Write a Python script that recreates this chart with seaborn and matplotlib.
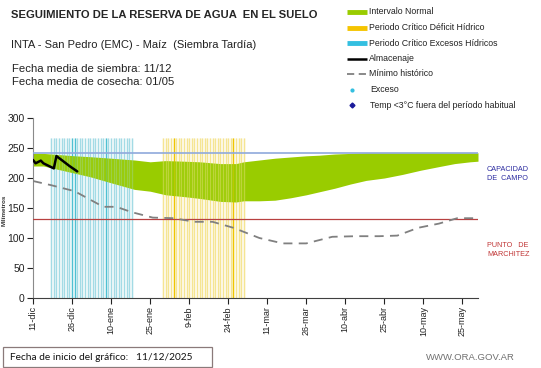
import numpy as np
import pandas as pd
import matplotlib
matplotlib.use("Agg")
import matplotlib.pyplot as plt
import seaborn as sns
from matplotlib.lines import Line2D
from matplotlib.patches import Rectangle

# === Data (days since 11-dic) ===
band_days = [0, 4, 10, 16, 22, 30, 39, 45, 51, 58, 64, 72, 78, 81, 87, 93, 99, 105,
             110, 116, 122, 128, 135, 142, 149, 156, 162, 168, 171]
band_upper = [241, 241, 239, 237, 235.5, 233, 230, 227, 229, 228, 227, 224, 224, 227, 230,
              233, 235, 237, 238, 240, 241, 242, 242, 242, 242, 242, 242, 242, 242]
band_lower = [220, 220, 214, 208, 202, 192, 181, 178, 172, 169, 166, 161, 160, 162, 162,
              163, 167, 172, 177, 183, 190, 196, 200, 206, 213, 219, 224, 227, 228]

min_days = [0, 7, 16, 27, 32, 38, 46, 54, 62, 69, 77, 87, 96, 105, 115, 124, 133, 140,
            148, 156, 163, 171]
min_hist = [195, 188, 178, 152, 152, 143, 134, 133, 127, 127, 117, 100, 91, 91, 102, 103,
            103, 104, 117, 124, 133, 133]

alm_days = [0, 1, 3, 4, 8, 9, 11, 14, 17]
almacenaje = [230, 224.5, 229, 224.5, 216, 236.5, 230, 220, 211]

exceso_days = list(range(7, 39))
exceso_dark = [15, 16, 28]
deficit_days = list(range(50, 82))
deficit_dark = [54, 77]
stripe_top = 266

capacidad_campo = 242
punto_marchitez = 131

tick_days = [0, 15, 30, 45, 60, 75, 90, 105, 120, 135, 150, 165]
tick_labels = ["11-dic", "26-dic", "10-ene", "25-ene", "9-feb", "24-feb", "11-mar",
               "26-mar", "10-abr", "25-abr", "10-may", "25-may"]

legend_labels = ["Intervalo Normal", "Periodo Crítico Déficit Hídrico",
                 "Periodo Crítico Excesos Hídricos", "Almacenaje", "Mínimo histórico",
                 "Exceso", "Temp <3°C fuera del período habitual"]

# === Style ===
sns.set_style("white")
plt.rcParams["font.family"] = ["Liberation Sans", "DejaVu Sans"]

GREEN = "#99cc00"
CYAN_L, CYAN_D = "#a3dbe5", "#4fc0d2"
YEL_L, YEL_D = "#f5e592", "#efc500"

fig = plt.figure(figsize=(5.41, 3.68), dpi=100)
ax = fig.add_axes([33 / 541, 1 - 298 / 368, (478 - 33) / 541, (298 - 118) / 368])

exc_cols = [CYAN_D if d in exceso_dark else CYAN_L for d in exceso_days]
def_cols = [YEL_D if d in deficit_dark else YEL_L for d in deficit_days]

# stripes below, green band, then faint stripes again over the band
ax.vlines(exceso_days, 0, stripe_top, lw=1.0, zorder=1, colors=exc_cols)
ax.vlines(deficit_days, 0, stripe_top, lw=1.0, zorder=1, colors=def_cols)

band = pd.DataFrame({"day": band_days, "upper": band_upper, "lower": band_lower})
ax.fill_between(band["day"], band["lower"], band["upper"], color=GREEN, lw=0, zorder=2)

ax.vlines(exceso_days, 0, stripe_top, lw=1.0, zorder=2.5, colors=exc_cols, alpha=0.3)
ax.vlines(deficit_days, 0, stripe_top, lw=1.0, zorder=2.5, colors=def_cols, alpha=0.4)

ax.axhline(capacidad_campo, color="#8fa9dc", lw=1.2, zorder=3)
ax.axhline(punto_marchitez, color="#b84040", lw=0.9, zorder=3)

mh = pd.DataFrame({"day": min_days, "mm": min_hist})
sns.lineplot(data=mh, x="day", y="mm", ax=ax, color="#808080", lw=1.3,
             dashes=False, zorder=4).lines[-1].set_dashes((5, 3.5))

al = pd.DataFrame({"day": alm_days, "mm": almacenaje})
sns.lineplot(data=al, x="day", y="mm", ax=ax, color="black", lw=1.8, zorder=5)

ax.set_xlim(0, 171)
ax.set_ylim(0, 300)
ax.set_yticks([0, 50, 100, 150, 200, 250, 300])
ax.set_xticks(tick_days)
ax.set_xticklabels(tick_labels, rotation=90, fontsize=6.5)
ax.tick_params(axis="y", labelsize=7.5, length=4, width=0.8, colors="#222222", pad=2)
ax.tick_params(axis="x", length=4, width=0.8, colors="#222222", pad=2)
ax.tick_params(axis="both", which="both", direction="out", left=True, bottom=True)
for s in ["top", "right"]:
    ax.spines[s].set_visible(False)
ax.spines["left"].set_color("#8a8a8a")
ax.spines["bottom"].set_color("#404040")
ax.set_xlabel("")
ax.set_ylabel("")
fig.text(4.5 / 541, 1 - 210 / 368, "Milímetros", rotation=90, fontsize=4.5,
         fontweight="bold", ha="center", va="center", color="#333333")

# === Header texts ===
fig.text(11 / 541, 1 - 15 / 368, "SEGUIMIENTO DE LA RESERVA DE AGUA  EN EL SUELO",
         fontsize=8.1, fontweight="bold", va="center")
fig.text(11 / 541, 1 - 45 / 368, "INTA - San Pedro (EMC) - Maíz  (Siembra Tardía)",
         fontsize=8.0, va="center", color="#222222")
fig.text(12 / 541, 1 - 69 / 368, "Fecha media de siembra: 11/12", fontsize=8.2,
         va="center", color="#222222")
fig.text(12 / 541, 1 - 82 / 368, "Fecha media de cosecha: 01/05", fontsize=8.2,
         va="center", color="#222222")

# === Legend (manual) ===
rows_y = [12, 27.5, 43, 58.5, 74, 89.5, 105]
handles = [
    dict(kind="line", color=GREEN, lw=3.5),
    dict(kind="line", color="#f5c400", lw=3.5),
    dict(kind="line", color="#33bfe0", lw=3.5),
    dict(kind="line", color="black", lw=1.8),
    dict(kind="dash", color="#808080", lw=1.3),
    dict(kind="marker", color="#33bfe0", marker="o", ms=2),
    dict(kind="marker", color="#1a1a9a", marker="D", ms=2.5),
]
for y, h, lab in zip(rows_y, handles, legend_labels):
    fy = 1 - y / 368
    if h["kind"] == "marker":
        fig.add_artist(Line2D([352 / 541], [fy], marker=h["marker"], color=h["color"],
                              ms=h["ms"], lw=0, transform=fig.transFigure))
        fig.text(370 / 541, fy, lab, fontsize=6.3, va="center", color="#222222")
    else:
        ln = Line2D([347 / 541, 367 / 541], [fy, fy], color=h["color"], lw=h["lw"],
                    transform=fig.transFigure, solid_capstyle="butt")
        if h["kind"] == "dash":
            ln.set_dashes((4, 2.5))
        fig.add_artist(ln)
        fig.text(369 / 541, fy, lab, fontsize=6.3, va="center", color="#222222")

# === Right side annotations ===
fig.text(487 / 541, 1 - 174 / 368, "CAPACIDAD\nDE  CAMPO", fontsize=5.2, va="center",
         color="#2b2ba0", linespacing=1.3)
fig.text(487 / 541, 1 - 250 / 368, "PUNTO   DE\nMARCHITEZ", fontsize=5.2, va="center",
         color="#c03535", linespacing=1.3)

# === Footer ===
fig.add_artist(Rectangle((3 / 541, 1 - 367 / 368), 209 / 541, 20 / 368, fill=False,
                         ec="#8a7a7a", lw=0.9, transform=fig.transFigure))
fig.text(10 / 541, 1 - 357 / 368, "Fecha de inicio del gráfico:   11/12/2025",
         fontsize=7.3, va="center", family=["Lato", "DejaVu Sans"], color="#111111")
fig.text(515 / 541, 1 - 358 / 368, "WWW.ORA.GOV.AR", fontsize=6.8, va="center",
         ha="right", color="#707070")

fig.savefig("out.png", dpi=100)
